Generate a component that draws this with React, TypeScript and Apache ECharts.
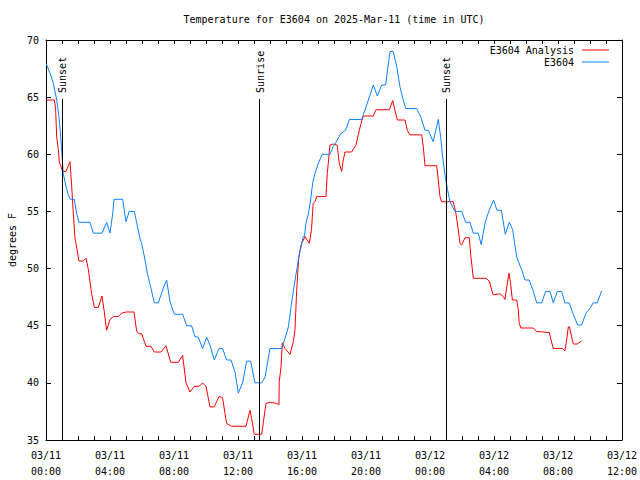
import React, { useEffect, useRef } from "react";
import * as echarts from "echarts";

const FONT = '"DejaVu Sans Mono", "Liberation Mono", monospace';

const titleText = "Temperature for E3604 on 2025-Mar-11 (time in UTC)";
const yAxisName = "degrees F";
const seriesNames = ["E3604 Analysis", "E3604"];

const xTickHours = [0, 4, 8, 12, 16, 20, 24, 28, 32, 36];
const xTickLabels = [
  "03/11\n00:00", "03/11\n04:00", "03/11\n08:00", "03/11\n12:00", "03/11\n16:00",
  "03/11\n20:00", "03/12\n00:00", "03/12\n04:00", "03/12\n08:00", "03/12\n12:00",
];

const sunNames = ["Sunset", "Sunrise", "Sunset"];
const sunHours = [1.0, 13.33, 25.0];

// hours since 03/11 00:00 UTC
const analysisHours = [
  0.02, 0.52, 0.6, 0.67, 0.77, 0.83, 0.94, 1.04, 1.25, 1.5, 1.6, 1.71, 1.81, 1.875, 2.06, 2.33, 2.5, 2.65, 2.85,
  3.02, 3.27, 3.5, 3.625, 3.79, 4.0, 4.21, 4.52, 4.73, 5.0, 5.5, 5.67, 5.83, 5.98, 6.25, 6.56, 6.77, 7.19, 7.5,
  7.79, 8.27, 8.54, 8.75, 9.0, 9.27, 9.58, 9.79, 10.0, 10.25, 10.52, 10.81, 11.04, 11.19, 11.29, 11.6, 12.5,
  12.75, 12.85, 13.02, 13.48, 13.58, 13.75, 14.0, 14.42, 14.56, 14.58, 14.69, 14.77, 14.94, 15.25, 15.46, 15.56,
  15.67, 15.8, 15.98, 16.19, 16.46, 16.6, 16.7, 16.83, 16.92, 17.5, 17.58, 17.75, 17.96, 18.2, 18.33, 18.48,
  18.58, 18.69, 19.1, 19.375, 19.52, 19.67, 19.83, 20.46, 20.625, 21.46, 21.67, 21.8, 21.96, 22.44, 22.58, 22.75,
  23.48, 23.58, 23.69, 24.42, 24.52, 24.625, 24.73, 25.46, 25.625, 25.77, 25.875, 25.98, 26.19, 26.46, 26.54,
  26.71, 27.5, 27.71, 27.86, 27.96, 28.375, 28.58, 28.69, 28.79, 28.94, 29.04, 29.15, 29.42, 29.52, 29.58, 29.69,
  30.46, 30.67, 31.46, 31.54, 31.71, 32.29, 32.44, 32.54, 32.65, 32.72, 32.85, 32.96, 33.21, 33.48,
];
const analysisTemps = [
  64.75, 64.75, 64.0, 61.5, 60.4, 59.35, 58.9, 58.5, 58.5, 59.35, 57.3, 54.8, 52.65, 52.2, 50.66, 50.66, 50.9, 49.9,
  47.8, 46.6, 46.6, 47.6, 46.4, 44.6, 45.55, 45.8, 45.8, 46.1, 46.2, 46.2, 44.5, 44.3, 44.3, 43.2, 43.2, 42.7, 42.7,
  43.25, 41.8, 41.8, 42.4, 40.0, 39.2, 39.7, 39.7, 40.0, 39.7, 37.9, 37.9, 38.8, 38.7, 37.3, 36.45, 36.2, 36.2,
  37.6, 36.9, 35.5, 35.5, 36.5, 38.2, 38.3, 38.2, 38.1, 40.1, 41.4, 43.5, 43.0, 42.5, 43.6, 44.6, 48.1, 51.0, 52.2,
  52.8, 52.2, 53.5, 55.7, 55.9, 56.3, 56.3, 58.3, 60.8, 60.9, 60.8, 59.2, 58.5, 59.5, 60.2, 60.2, 60.8, 61.7, 62.6,
  63.35, 63.35, 63.9, 63.9, 64.7, 63.9, 63.0, 63.0, 62.1, 61.7, 61.7, 60.7, 59.0, 59.0, 57.75, 56.3, 55.85, 55.85,
  54.8, 53.4, 52.2, 52.06, 52.7, 52.7, 51.3, 49.15, 49.15, 48.9, 48.1, 47.7, 47.8, 47.55, 47.3, 48.3, 49.6, 48.7,
  47.25, 47.25, 46.4, 45.2, 44.8, 44.8, 44.5, 44.4, 43.9, 43.0, 43.0, 42.8, 43.75, 44.9, 44.9, 44.04, 43.4, 43.4,
  43.66,
];

const stationHours = [
  0.02, 0.25, 0.46, 0.67, 0.81, 0.92, 1.02, 1.08, 1.25, 1.4, 1.54, 1.77, 1.81, 1.92, 2.06, 2.75, 2.96, 3.5, 3.79,
  4.0, 4.17, 4.25, 4.79, 5.0, 5.2, 5.52, 5.67, 5.875, 5.98, 6.19, 6.33, 6.54, 6.77, 7.02, 7.33, 7.54, 7.75, 8.02,
  8.54, 8.79, 9.1, 9.31, 9.52, 9.79, 10.04, 10.25, 10.52, 10.81, 11.04, 11.29, 11.56, 11.81, 12.02, 12.29, 12.54,
  12.79, 13.06, 13.48, 13.69, 14.0, 14.73, 14.94, 15.15, 15.35, 15.5, 15.71, 15.875, 16.08, 16.15, 16.25, 16.4,
  16.54, 16.67, 16.81, 17.02, 17.27, 17.75, 17.96, 18.125, 18.42, 18.73, 18.96, 19.73, 20.04, 20.46, 20.71,
  20.98, 21.23, 21.33, 21.5, 21.7, 21.92, 22.125, 22.33, 22.48, 23.17, 23.42, 23.69, 23.9, 24.2, 24.52, 24.67,
  24.79, 24.96, 25.1, 25.25, 25.56, 25.98, 26.23, 26.5, 26.71, 27.02, 27.2, 27.46, 27.7, 27.98, 28.19, 28.46,
  28.71, 28.96, 29.17, 29.42, 29.73, 29.94, 30.2, 30.46, 30.67, 30.98, 31.23, 31.5, 31.71, 31.96, 32.23, 32.44,
  32.7, 32.96, 33.23, 33.48, 33.75, 34.04, 34.2, 34.46, 34.73,
];
const stationTemps = [
  67.9, 67.1, 66.2, 64.75, 63.3, 61.5, 59.5, 58.3, 57.2, 56.4, 56.06, 56.06, 55.7, 54.8, 54.05, 54.05, 53.1, 53.1,
  54.05, 53.1, 54.8, 56.06, 56.06, 54.1, 55.0, 55.0, 54.0, 52.6, 52.2, 50.75, 49.6, 48.4, 47.0, 47.0, 48.3, 49.0,
  47.1, 46.0, 46.0, 45.0, 45.0, 44.04, 44.0, 43.0, 44.0, 43.3, 42.0, 43.0, 43.0, 42.0, 42.0, 41.0, 39.1, 40.0, 41.9,
  41.9, 40.0, 40.0, 40.5, 43.0, 43.0, 43.9, 44.9, 47.0, 48.4, 50.2, 51.6, 52.8, 52.8, 54.0, 54.8, 56.0, 57.5, 58.3,
  59.2, 60.0, 60.0, 60.7, 61.05, 61.8, 62.1, 63.05, 63.05, 64.3, 66.06, 65.1, 66.06, 66.06, 67.2, 69.0, 69.0,
  67.7, 65.9, 64.75, 64.0, 64.0, 63.3, 62.1, 62.1, 61.1, 63.05, 61.5, 59.8, 58.0, 56.9, 55.85, 55.0, 55.0, 54.05,
  54.05, 53.1, 53.1, 52.1, 54.1, 55.1, 56.0, 55.1, 55.1, 53.0, 54.05, 53.4, 51.0, 49.9, 49.0, 49.0, 48.0, 47.0,
  47.0, 48.0, 48.0, 47.0, 48.0, 48.0, 47.0, 47.0, 46.0, 45.06, 45.06, 46.1, 46.6, 47.0, 47.0, 48.04,
];

const X_MIN = 0;
const X_MAX = 36;
const Y_MIN = 35;
const Y_MAX = 70;
const SUN_LINE_TOP = 64.84;

const RED = "#ff0000";
const BLUE = "#0a80ff";

function pairs(xs: number[], ys: number[]) {
  return xs.map((x, i) => [x, ys[i]]);
}

export default function App() {
  const ref = useRef<HTMLDivElement>(null);

  useEffect(() => {
    if (!ref.current) return;
    const chart = echarts.init(ref.current, undefined, { renderer: "svg" });

    const tickCommon = {
      show: true,
      inside: true,
      length: 4,
      lineStyle: { color: "#000", width: 1 },
    };

    const xFormatter = (v: number) => {
      const idx = xTickHours.indexOf(Math.round(v));
      return idx >= 0 ? xTickLabels[idx] : "";
    };

    const option: any = {
      animation: false,
      backgroundColor: "#fff",
      textStyle: { fontFamily: FONT },
      grid: { left: 46, right: 18, top: 40, bottom: 40, show: false, containLabel: false },
      legend: {
        orient: "vertical",
        right: 31,
        top: 44,
        align: "right",
        icon: "rect",
        itemWidth: 27,
        itemHeight: 1,
        itemGap: 0,
        padding: 0,
        data: seriesNames,
        textStyle: { fontFamily: FONT, fontSize: 10, color: "#000", lineHeight: 12, padding: [0, 3, 0, 0] },
      },
      xAxis: [
        {
          type: "value",
          min: X_MIN,
          max: X_MAX,
          interval: 1,
          position: "bottom",
          splitLine: { show: false },
          axisLine: { show: true, onZero: false, lineStyle: { color: "#000", width: 1 } },
          axisTick: tickCommon,
          axisLabel: {
            show: true,
            margin: 7,
            fontFamily: FONT,
            fontSize: 10,
            color: "#000",
            lineHeight: 16,
            formatter: xFormatter,
          },
        },
        {
          type: "value",
          min: X_MIN,
          max: X_MAX,
          interval: 1,
          position: "top",
          splitLine: { show: false },
          axisLine: { show: true, onZero: false, lineStyle: { color: "#000", width: 1 } },
          axisTick: tickCommon,
          axisLabel: { show: false },
        },
      ],
      yAxis: [
        {
          type: "value",
          min: Y_MIN,
          max: Y_MAX,
          interval: 5,
          position: "left",
          splitLine: { show: false },
          axisLine: { show: true, onZero: false, lineStyle: { color: "#000", width: 1 } },
          axisTick: { ...tickCommon, length: 5 },
          axisLabel: { show: true, margin: 7, fontFamily: FONT, fontSize: 10, color: "#000" },
        },
        {
          type: "value",
          min: Y_MIN,
          max: Y_MAX,
          interval: 5,
          position: "right",
          splitLine: { show: false },
          axisLine: { show: true, onZero: false, lineStyle: { color: "#000", width: 1 } },
          axisTick: { ...tickCommon, length: 5 },
          axisLabel: { show: false },
        },
      ],
      series: [
        {
          name: seriesNames[0],
          type: "line",
          xAxisIndex: 0,
          yAxisIndex: 0,
          data: pairs(analysisHours, analysisTemps),
          showSymbol: false,
          symbol: "none",
          lineStyle: { color: RED, width: 1 },
          itemStyle: { color: RED },
          z: 3,
        },
        {
          name: seriesNames[1],
          type: "line",
          xAxisIndex: 0,
          yAxisIndex: 0,
          data: pairs(stationHours, stationTemps),
          showSymbol: false,
          symbol: "none",
          lineStyle: { color: BLUE, width: 1 },
          itemStyle: { color: BLUE },
          z: 3,
          markLine: {
            silent: true,
            symbol: "none",
            label: { show: false },
            lineStyle: { color: "#000", width: 1, type: "solid" },
            data: sunHours.map((h) => [
              { coord: [h, SUN_LINE_TOP] },
              { coord: [h, Y_MIN] },
            ]),
          },
        },
      ],
    };

    chart.setOption(option);

    const sunTexts = sunHours.map((h, i) => {
      const p = chart.convertToPixel({ xAxisIndex: 0, yAxisIndex: 0 }, [h, SUN_LINE_TOP]) as number[];
      return {
        type: "text",
        x: p[0] + 1,
        y: p[1] - 6,
        rotation: Math.PI / 2,
        style: {
          text: sunNames[i],
          fill: "#000",
          font: `10px ${FONT}`,
          textAlign: "left",
          textVerticalAlign: "middle",
        },
      };
    });

    chart.setOption({
      graphic: [
        {
          type: "text",
          x: 334,
          y: 19,
          style: {
            text: titleText,
            fill: "#000",
            font: `10px ${FONT}`,
            textAlign: "center",
            textVerticalAlign: "middle",
          },
        },
        {
          type: "text",
          x: 12,
          y: 240,
          rotation: Math.PI / 2,
          style: {
            text: yAxisName,
            fill: "#000",
            font: `10px ${FONT}`,
            textAlign: "center",
            textVerticalAlign: "middle",
          },
        },
        ...sunTexts,
      ],
    });

    return () => {
      chart.dispose();
    };
  }, []);

  return (
    <div
      ref={ref}
      style={{ position: "fixed", left: 0, top: 0, width: 640, height: 480, background: "#fff" }}
    />
  );
}
